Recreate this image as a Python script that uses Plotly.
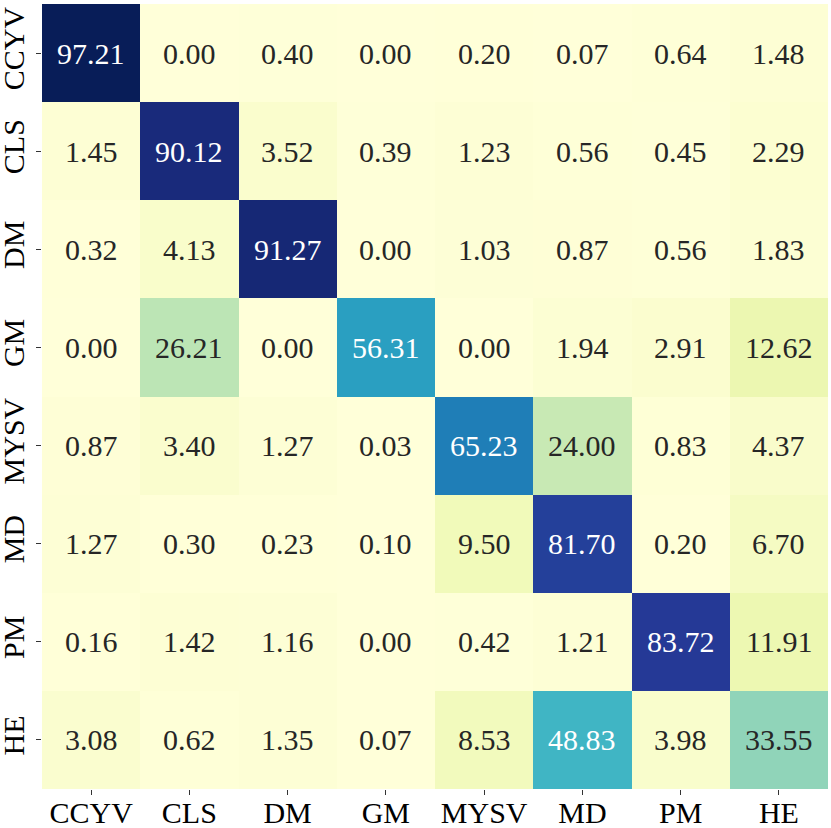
import plotly.graph_objects as go

labels = ['CCYV', 'CLS', 'DM', 'GM', 'MYSV', 'MD', 'PM', 'HE']

row_ccyv = [97.21, 0.00, 0.40, 0.00, 0.20, 0.07, 0.64, 1.48]
row_cls = [1.45, 90.12, 3.52, 0.39, 1.23, 0.56, 0.45, 2.29]
row_dm = [0.32, 4.13, 91.27, 0.00, 1.03, 0.87, 0.56, 1.83]
row_gm = [0.00, 26.21, 0.00, 56.31, 0.00, 1.94, 2.91, 12.62]
row_mysv = [0.87, 3.40, 1.27, 0.03, 65.23, 24.00, 0.83, 4.37]
row_md = [1.27, 0.30, 0.23, 0.10, 9.50, 81.70, 0.20, 6.70]
row_pm = [0.16, 1.42, 1.16, 0.00, 0.42, 1.21, 83.72, 11.91]
row_he = [3.08, 0.62, 1.35, 0.07, 8.53, 48.83, 3.98, 33.55]

z = [row_ccyv, row_cls, row_dm, row_gm, row_mysv, row_md, row_pm, row_he]
zmax = max(max(r) for r in z)

FONT = 'Liberation Serif, Times New Roman, serif'

fig = go.Figure(go.Heatmap(
	z=z, x=labels, y=labels,
	colorscale='YlGnBu', zmin=0, zmax=zmax,
	showscale=False,
))

# numbers in the cells, white on the dark ones
for i, row in enumerate(z):
	for j, v in enumerate(row):
		fig.add_annotation(
			x=labels[j], y=labels[i], text=f'{v:.2f}', showarrow=False,
			font=dict(family=FONT, size=30,
				color='white' if v / zmax > 0.45 else '#262626'),
		)

fig.update_xaxes(
	side='bottom', ticks='outside', ticklen=5, tickcolor='#333333',
	ticklabelstandoff=-8, automargin=False,
	showgrid=False, zeroline=False, showline=False,
	tickfont=dict(family=FONT, size=30, color='black'),
)
fig.update_yaxes(
	autorange='reversed', ticks='outside', ticklen=5, tickcolor='#333333',
	tickangle=-90, ticklabelstandoff=0, automargin=False,
	showgrid=False, zeroline=False, showline=False,
	tickfont=dict(family=FONT, size=30, color='black'),
)

fig.update_layout(
	width=831, height=828,
	margin=dict(l=42, r=3, t=4, b=39),
	paper_bgcolor='white', plot_bgcolor='white',
)

# page body has an 8px margin by default, drop it
fig.write_html('out.html', config={'displayModeBar': False},
	post_script="document.body.style.margin='0';")
